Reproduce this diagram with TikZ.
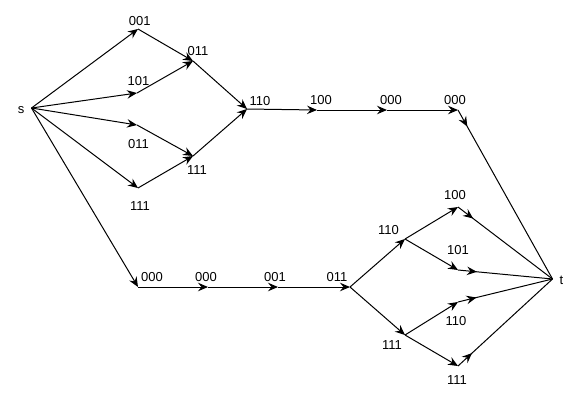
\documentclass[tikz,border=0pt]{standalone}
\usepackage{fontspec}
\setmainfont{Liberation Sans}
\usetikzlibrary{arrows.meta,decorations.markings}
\begin{document}
\begin{tikzpicture}[x=1pt,y=-1pt,
  tip/.style={-{Stealth[length=10pt,width=8.5pt,inset=3.5pt]}},
  edge/.style={draw, line width=1pt, tip},
  nearstart/.style={draw, line width=1pt,
    decoration={markings, mark=at position 19pt with {\arrow{Stealth[length=10pt,width=8.5pt,inset=3.5pt]}}},
    postaction={decorate}},
  lbl/.style={font=\fontsize{13}{15}\selectfont, inner sep=0pt}]
\useasboundingbox (0,0) rectangle (581,400);
% points
\coordinate (s) at (31.5,108);
\coordinate (u001) at (138,29);
\coordinate (u011) at (193,61);
\coordinate (u101) at (137,93);
\coordinate (m011) at (137,125);
\coordinate (u111) at (193,156);
\coordinate (l111) at (138,188);
\coordinate (u110) at (247,109);
\coordinate (u100) at (317,110);
\coordinate (u000a) at (387,110);
\coordinate (u000b) at (458,110);
\coordinate (b000a) at (138,287);
\coordinate (b000b) at (208,287);
\coordinate (b001) at (278,287);
\coordinate (b011) at (350,287);
\coordinate (r110) at (405,239);
\coordinate (r111) at (405,335);
\coordinate (r100) at (458,207);
\coordinate (r101) at (458,270);
\coordinate (r110b) at (458,302);
\coordinate (r111b) at (458,366);
\coordinate (t) at (552.5,279);
% labels
\node[lbl] (ls) at (21,110) {s};
\node[lbl] (l1) at (139.7,20.7) {001};
\node[lbl] (l2) at (198,51) {011};
\node[lbl] (l3) at (138.5,81) {101};
\node[lbl] (l4) at (260,101) {110};
\node[lbl] (l5) at (138.5,144) {011};
\node[lbl] (l6) at (197,170) {111};
\node[lbl] (l7) at (140,206) {111};
\node[lbl] (l8) at (321,100) {100};
\node[lbl] (l9) at (391,100) {000};
\node[lbl] (l10) at (455,100) {000};
\node[lbl] (l11) at (152,277) {000};
\node[lbl] (l12) at (206,277) {000};
\node[lbl] (l13) at (275,277) {001};
\node[lbl] (l14) at (337,277) {011};
\node[lbl] (l15) at (388.5,230) {110};
\node[lbl] (l16) at (392,345) {111};
\node[lbl] (l17) at (455,195) {100};
\node[lbl] (l18) at (458,250) {101};
\node[lbl] (l19) at (456,321) {110};
\node[lbl] (l20) at (457,380) {111};
\node[lbl] (lt) at (561.5,280) {t};
% upper edges
\path[edge] (s) -- (u001);
\path[edge] (u001) -- (u011);
\path[edge] (s) -- (u101);
\path[edge] (u101) -- (u011);
\path[edge] (u011) -- (u110);
\path[edge] (s) -- (m011);
\path[edge] (m011) -- (u111);
\path[edge] (s) -- (l111);
\path[edge] (l111) -- (u111);
\path[edge] (u111) -- (u110);
\path[edge] (u110) -- (u100);
\path[edge] (u100) -- (u000a);
\path[edge] (u000a) -- (u000b);
\path[nearstart] (u000b) -- (t);
% lower edges
\path[edge] (s) -- (b000a);
\path[edge] (b000a) -- (b000b);
\path[edge] (b000b) -- (b001);
\path[edge] (b001) -- (b011);
\path[edge] (b011) -- (r110);
\path[edge] (b011) -- (r111);
\path[edge] (r110) -- (r100);
\path[edge] (r110) -- (r101);
\path[edge] (r111) -- (r110b);
\path[edge] (r111) -- (r111b);
\path[nearstart] (r100) -- (t);
\path[nearstart] (r101) -- (t);
\path[nearstart] (r110b) -- (t);
\path[nearstart] (r111b) -- (t);
\end{tikzpicture}
\end{document}
